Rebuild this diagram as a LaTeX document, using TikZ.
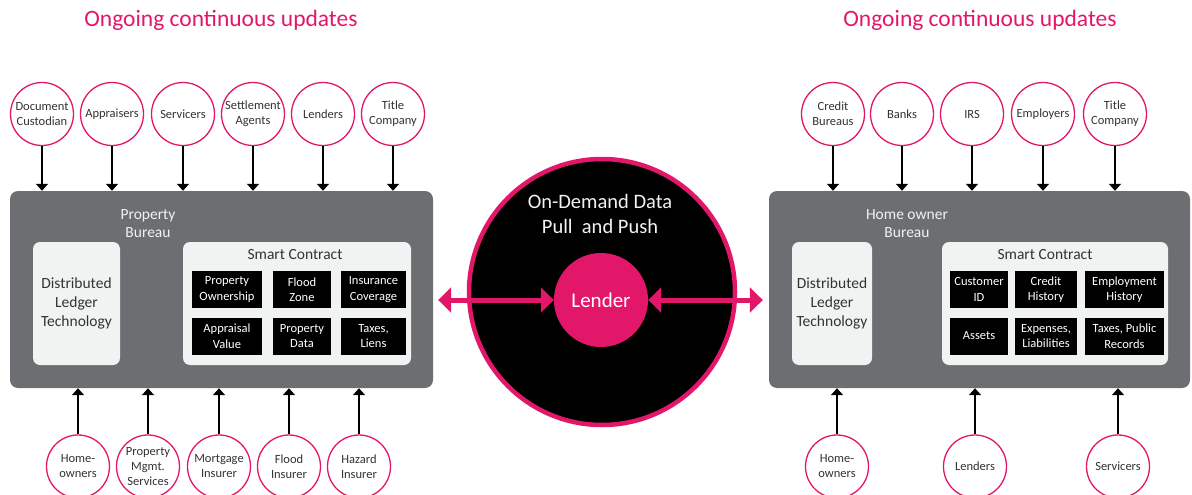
\documentclass[tikz,border=0pt]{standalone}
\usepackage{fontspec}
\setmainfont{Carlito}
\usetikzlibrary{positioning,arrows.meta,calc}
\definecolor{LedgerPink}{HTML}{E3176A}
\definecolor{BureauGray}{HTML}{6D6E71}
\definecolor{PanelGray}{HTML}{F1F2F2}
\definecolor{LabelGray}{HTML}{333333}

\begin{document}
\begin{tikzpicture}[x=1pt, y=-1pt,
  src/.style     = {circle, draw=LedgerPink, line width=1.3pt, fill=white, minimum size=63pt, inner sep=0pt, align=center, text=LabelGray, font=\fontsize{12.5}{15}\selectfont},
  bureau/.style  = {rectangle, rounded corners=8pt, fill=BureauGray, inner sep=0pt},
  panel/.style   = {rectangle, rounded corners=7pt, fill=PanelGray, inner sep=0pt, align=center, text=LabelGray},
  field/.style   = {rectangle, fill=black, text=white, align=center, inner sep=0pt, minimum height=37pt, font=\fontsize{12.5}{15.5}\selectfont},
  feed/.style    = {-{Triangle[length=7pt,width=12pt]}, line width=1.6pt},
  duplex/.style  = {{Triangle[length=13pt,width=25pt]}-{Triangle[length=13pt,width=25pt]}, line width=5pt, draw=LedgerPink},
  ttl/.style     = {text=LedgerPink, font=\fontsize{23.5}{28}\selectfont},
  blbl/.style    = {text=PanelGray, align=center, font=\fontsize{15.5}{18}\selectfont},
  dlt/.style     = {panel, font=\fontsize{15.5}{19}\selectfont},
  sctitle/.style = {text=LabelGray, font=\fontsize{15.5}{18}\selectfont}
]
\useasboundingbox (0,0) rectangle (1192,495);

% Titles
\node[ttl] (ttlP) at (221, 20) {Ongoing continuous updates};
\node[ttl] (ttlH) at (980, 20) {Ongoing continuous updates};

% Property bureau
\node[bureau, minimum width=423pt, minimum height=197pt] (pb) at (221.5, 289.5) {};
\node[blbl] (pbLbl) at (148, 224) {Property\\Bureau};
\node[dlt, minimum width=87pt, minimum height=123pt] (pbDlt) at (76.5, 303.5) {Distributed\\Ledger\\Technology};
\node[panel, minimum width=228pt, minimum height=123pt] (pbSc) at (297, 303.5) {};
\node[sctitle] (pbScT) at (295, 255) {Smart Contract};
\node[field, minimum width=70pt] (fOwn)  at (227, 289.5)   {Property\\Ownership};
\node[field, minimum width=58pt] (fZone) at (302, 289.5)   {Flood\\Zone};
\node[field, minimum width=65pt] (fIns)  at (373.5, 289.5) {Insurance\\Coverage};
\node[field, minimum width=70pt] (fApp)  at (227, 336)     {Appraisal\\Value};
\node[field, minimum width=58pt] (fData) at (302, 336)     {Property\\Data};
\node[field, minimum width=65pt] (fTax)  at (373.5, 336)   {Taxes,\\Liens};

% Home owner bureau
\node[bureau, minimum width=421pt, minimum height=197pt] (hb) at (979.5, 289.5) {};
\node[blbl] (hbLbl) at (907, 224) {Home owner\\Bureau};
\node[dlt, minimum width=80pt, minimum height=123pt] (hbDlt) at (832, 303.5) {Distributed\\Ledger\\Technology};
\node[panel, minimum width=226pt, minimum height=123pt] (hbSc) at (1055, 303.5) {};
\node[sctitle] (hbScT) at (1045, 255) {Smart Contract};
\node[field, minimum width=58pt] (fCid)  at (979, 289.5)    {Customer\\ID};
\node[field, minimum width=62pt] (fCred) at (1046, 289.5)   {Credit\\History};
\node[field, minimum width=79pt] (fEmp)  at (1124.5, 289.5) {Employment\\History};
\node[field, minimum width=58pt] (fAst)  at (979, 336)      {Assets};
\node[field, minimum width=62pt] (fExp)  at (1046, 336)     {Expenses,\\Liabilities};
\node[field, minimum width=79pt] (fPub)  at (1124.5, 336)   {Taxes, Public\\Records};

% Sources feeding the bureaus
\foreach \n/\x/\t in {tDoc/42/{Document\\Custodian}, tApr/112/Appraisers, tSvc/183/Servicers,
                      tSet/253/{Settlement\\Agents}, tLen/323/Lenders, tTit/393/{Title\\Company}}
  \node[src] (\n) at (\x, 114) {\t};
\foreach \n/\x/\t in {bHome/78/{Home-\\owners}, bMgmt/148/{Property\\Mgmt.\\Services},
                      bMort/219/{Mortgage\\Insurer}, bFlood/289/{Flood\\Insurer}, bHaz/359/{Hazard\\Insurer}}
  \node[src] (\n) at (\x, 466.5) {\t};
\foreach \n/\x/\t in {tCred/833/{Credit\\Bureaus}, tBank/902/Banks, tIrs/972/IRS,
                      tEmp/1043/Employers, tTitH/1115/{Title\\Company}}
  \node[src] (\n) at (\x, 114) {\t};
\foreach \n/\x/\t in {bHomeH/837/{Home-\\owners}, bLenH/975/Lenders, bSvcH/1118/Servicers}
  \node[src] (\n) at (\x, 466.5) {\t};

\foreach \n in {tDoc, tApr, tSvc, tSet, tLen, tTit}
  \draw[feed] (\n) -- (\n |- pb.north);
\foreach \n in {bHome, bMgmt, bMort, bFlood, bHaz}
  \draw[feed] (\n) -- (\n |- pb.south);
\foreach \n in {tCred, tBank, tIrs, tEmp, tTitH}
  \draw[feed] (\n) -- (\n |- hb.north);
\foreach \n in {bHomeH, bLenH, bSvcH}
  \draw[feed] (\n) -- (\n |- hb.south);

% Lender hub
\node[circle, draw=LedgerPink, line width=4.5pt, fill=black, minimum size=266pt, inner sep=0pt] (hub) at (602, 292) {};
\node[text=PanelGray, align=center, font=\fontsize{20.5}{25}\selectfont] (hubLbl) at (600, 214) {On-Demand Data\\Pull\ \ and Push};
\node[circle, fill=LedgerPink, minimum size=94pt, inner sep=0pt, text=white, font=\fontsize{21}{25}\selectfont] (lender) at (601, 300) {Lender};

\draw[duplex, shorten <=5pt] (pb.east |- lender) -- (lender);
\draw[duplex, shorten >=6pt] (lender) -- (hb.west |- lender);
\end{tikzpicture}
\end{document}
